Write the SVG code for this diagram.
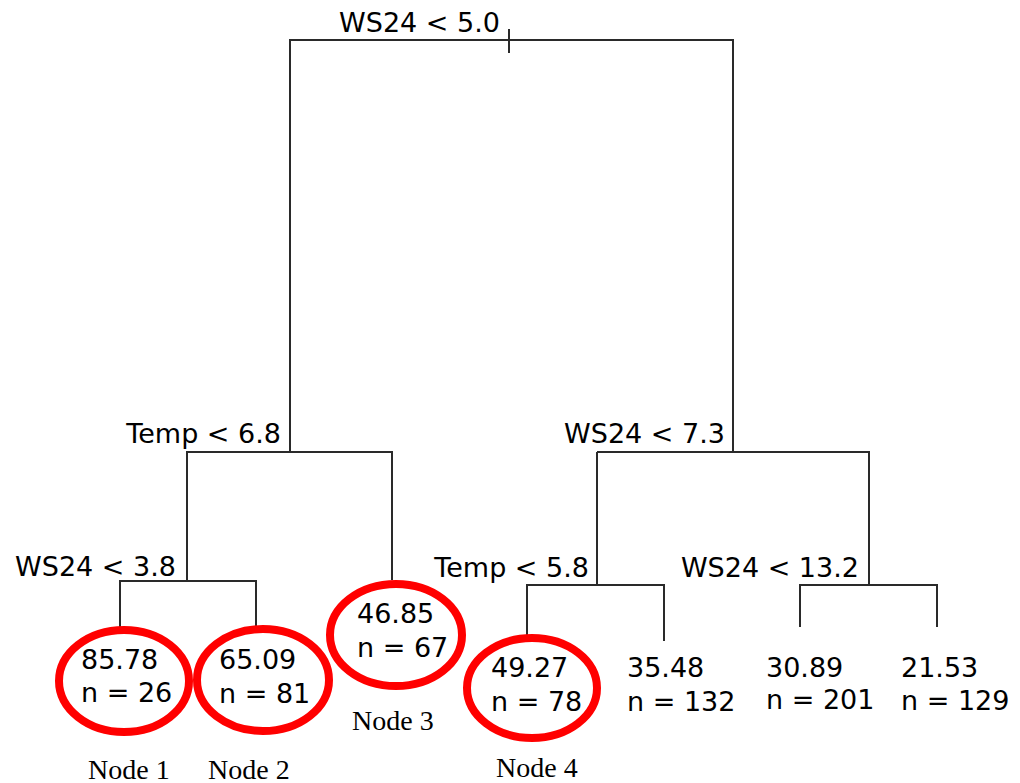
<svg xmlns="http://www.w3.org/2000/svg" width="1020" height="783" viewBox="0 0 1020 783">
  <style>
    .edge { fill: none; stroke: #2a2a2a; stroke-width: 2; }
    .split { font-family: "DejaVu Sans", sans-serif; font-size: 27px; fill: #000; text-anchor: end; }
    .leaf { font-family: "DejaVu Sans", sans-serif; font-size: 27px; fill: #000; }
    .mark { fill: none; stroke: #ff0000; stroke-width: 8; }
    .tag { font-family: "Liberation Serif", "Times New Roman", serif; font-size: 28px; fill: #000; }
  </style>
  <rect width="1020" height="783" fill="#fff"/>

  <!-- tree branches -->
  <g id="connectors">
    <line class="edge" x1="509" y1="29" x2="509" y2="53"/>
    <path class="edge" d="M290,452 V40 H733 V452"/>
    <path class="edge" d="M187,581 V452 H392 V580"/>
    <path class="edge" d="M120,627 V581 H256 V626"/>
    <path class="edge" d="M527,635 V585 H664 V641"/>
    <line class="edge" x1="597" y1="452" x2="597" y2="585"/>
    <path class="edge" d="M597,452 H869 V585"/>
    <path class="edge" d="M800,627 V585 H937 V627"/>
  </g>

  <!-- split rules -->
  <g id="split-root"><text class="split" x="500" y="32">WS24 &lt; 5.0</text></g>
  <g id="split-temp68"><text class="split" x="281" y="443">Temp &lt; 6.8</text></g>
  <g id="split-ws38"><text class="split" x="176" y="576">WS24 &lt; 3.8</text></g>
  <g id="split-ws73"><text class="split" x="725" y="443">WS24 &lt; 7.3</text></g>
  <g id="split-temp58"><text class="split" x="589" y="577">Temp &lt; 5.8</text></g>
  <g id="split-ws132"><text class="split" x="859" y="577">WS24 &lt; 13.2</text></g>

  <!-- terminal nodes -->
  <g id="leaf-1">
    <ellipse class="mark" cx="124" cy="681" rx="65" ry="51"/>
    <text class="leaf" x="81" y="669">85.78</text>
    <text class="leaf" x="81" y="702">n = 26</text>
    <text class="tag" x="88" y="779">Node 1</text>
  </g>
  <g id="leaf-2">
    <ellipse class="mark" cx="263" cy="680" rx="66" ry="51"/>
    <text class="leaf" x="219" y="669">65.09</text>
    <text class="leaf" x="219" y="703">n = 81</text>
    <text class="tag" x="208" y="779">Node 2</text>
  </g>
  <g id="leaf-3">
    <ellipse class="mark" cx="396" cy="635" rx="66" ry="51"/>
    <text class="leaf" x="357" y="623">46.85</text>
    <text class="leaf" x="357" y="657">n = 67</text>
    <text class="tag" x="352" y="730">Node 3</text>
  </g>
  <g id="leaf-4">
    <ellipse class="mark" cx="532" cy="688" rx="65" ry="50"/>
    <text class="leaf" x="491" y="677">49.27</text>
    <text class="leaf" x="491" y="711">n = 78</text>
    <text class="tag" x="496" y="777">Node 4</text>
  </g>
  <g id="leaf-5">
    <text class="leaf" x="627" y="677">35.48</text>
    <text class="leaf" x="627" y="711">n = 132</text>
  </g>
  <g id="leaf-6">
    <text class="leaf" x="766" y="677">30.89</text>
    <text class="leaf" x="766" y="709">n = 201</text>
  </g>
  <g id="leaf-7">
    <text class="leaf" x="901" y="677">21.53</text>
    <text class="leaf" x="901" y="710">n = 129</text>
  </g>
</svg>
